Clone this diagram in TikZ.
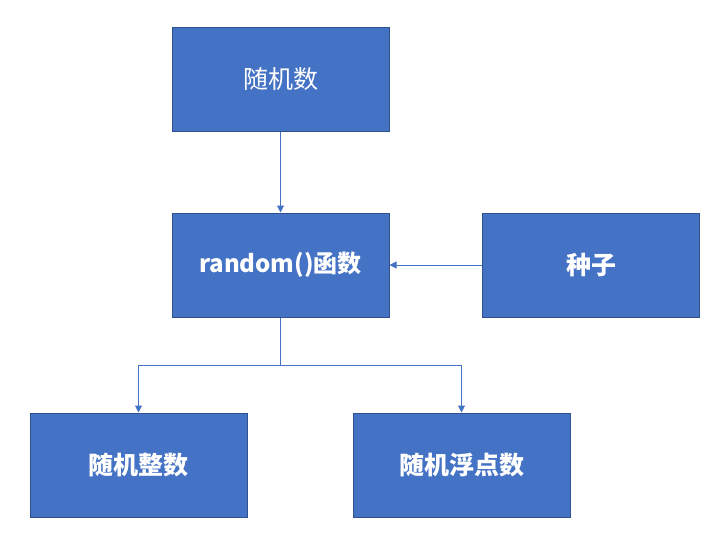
\documentclass[tikz,border=0pt]{standalone}
\usepackage{fontspec}
\setmainfont{Noto Sans CJK SC}
\usetikzlibrary{positioning, arrows.meta}
\definecolor{azul}{HTML}{4472C4}
\definecolor{borde}{HTML}{2F528F}
\begin{document}
\begin{tikzpicture}[x=1pt, y=-1pt,
				caja/.style={rectangle, draw=borde, line width=1pt, fill=azul, text=white, minimum width=217pt, minimum height=104pt, inner sep=0pt, font=\fontsize{25}{30}\selectfont},
				negrita/.style={caja, font=\fontsize{25}{30}\selectfont\bfseries},
				flecha/.style={draw=azul, line width=1pt, -{Triangle[width=7pt, length=7pt]}}]
				\useasboundingbox (0,0) rectangle (727,557);
				\node[caja] (semilla) at (280.5,79) {随机数};
				\node[negrita, font=\fontsize{24}{30}\selectfont\bfseries] (funcion) at (280.5,265) {random()函数};
				\node[negrita] (seed) at (591,265) {种子};
				\node[negrita] (entero) at (138.5,465) {随机整数};
				\node[negrita] (flotante) at (461.5,465) {随机浮点数};
				\coordinate (rama) at (280.5,365);
				\draw[flecha] (semilla) -- (funcion);
				\draw[flecha] (seed) -- (funcion);
				\draw[azul, line width=1pt] (funcion) -- (rama);
				\draw[flecha] (rama) -| (entero.north);
				\draw[flecha] (rama) -| (flotante.north);
			\end{tikzpicture}
\end{document}
